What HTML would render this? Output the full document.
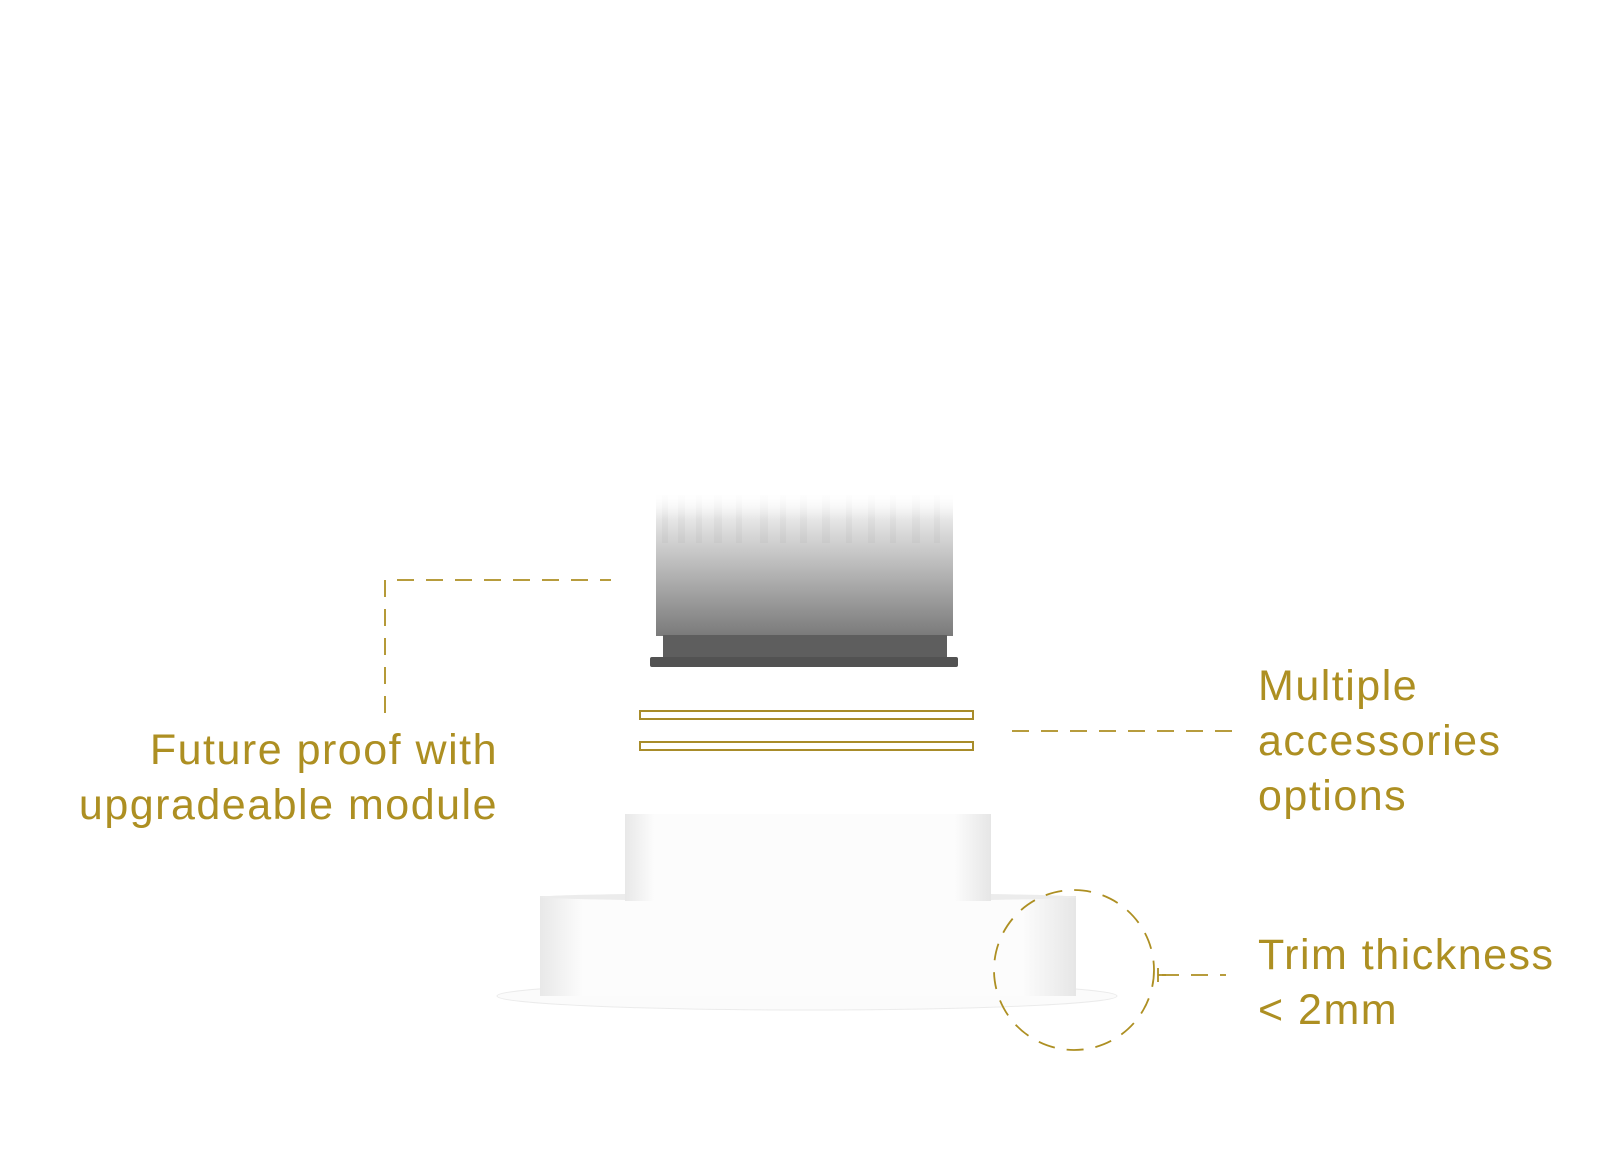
<!DOCTYPE html>
<html><head><meta charset="utf-8"><style>
html,body{margin:0;padding:0;background:#fff;}
body{width:1613px;height:1161px;position:relative;overflow:hidden;font-family:"Liberation Sans",sans-serif;}
.t{position:absolute;color:#ad8f22;font-size:43px;line-height:55px;white-space:nowrap;letter-spacing:1.5px;}
</style></head><body>
<svg width="1613" height="1161" style="position:absolute;left:0;top:0">
<defs>
<linearGradient id="mod" x1="0" y1="0" x2="0" y2="1">
<stop offset="0" stop-color="#fff"/>
<stop offset="0.3" stop-color="#d6d6d6"/>
<stop offset="1" stop-color="#7a7a7a"/>
</linearGradient>
<linearGradient id="fade" x1="0" y1="0" x2="0" y2="1">
<stop offset="0" stop-color="#fff" stop-opacity="1"/>
<stop offset="1" stop-color="#fff" stop-opacity="0"/>
</linearGradient>
<linearGradient id="wh" x1="0" y1="0" x2="1" y2="0">
<stop offset="0" stop-color="#e8e8e8"/>
<stop offset="0.08" stop-color="#fcfcfc"/>
<stop offset="0.9" stop-color="#fcfcfc"/>
<stop offset="1" stop-color="#e6e6e6"/>
</linearGradient>
</defs>
<rect x="656" y="493" width="297" height="143" fill="url(#mod)"/>
<g fill="#000" opacity="0.025">
<rect x="662" y="495" width="6" height="48"/><rect x="678" y="495" width="7" height="48"/><rect x="696" y="495" width="6" height="48"/><rect x="714" y="495" width="8" height="48"/><rect x="736" y="495" width="6" height="48"/><rect x="760" y="495" width="8" height="48"/><rect x="780" y="495" width="6" height="48"/><rect x="800" y="495" width="7" height="48"/><rect x="822" y="495" width="8" height="48"/><rect x="846" y="495" width="6" height="48"/><rect x="868" y="495" width="7" height="48"/><rect x="890" y="495" width="6" height="48"/><rect x="912" y="495" width="8" height="48"/><rect x="934" y="495" width="6" height="48"/>
</g>
<rect x="656" y="490" width="297" height="30" fill="url(#fade)"/>
<rect x="663" y="635" width="284" height="23" fill="#5e5e5e"/>
<rect x="650" y="657" width="308" height="10" rx="2" fill="#525252"/>
<rect x="640" y="711" width="333" height="8" fill="none" stroke="#a88c2a" stroke-width="2"/>
<rect x="640" y="742" width="333" height="8" fill="none" stroke="#a88c2a" stroke-width="2"/>
<ellipse cx="807" cy="996" rx="310" ry="14" fill="#fbfbfb" stroke="#ebebeb"/>
<rect x="540" y="896" width="536" height="100" fill="url(#wh)"/>
<ellipse cx="808" cy="897" rx="268" ry="4" fill="#ececec"/>
<rect x="625" y="814" width="366" height="87" fill="url(#wh)"/>
<g stroke="#ad8f22" stroke-width="1.8" fill="none" stroke-dasharray="17 12">
<path d="M385 713 V580 H611"/>
<path d="M1012 731 H1238"/>
<path d="M1162 975 H1226"/>
<circle cx="1074" cy="970" r="80"/>
</g>
<path d="M1158 968 V982 M1158 975 H1166" stroke="#ad8f22" stroke-width="1.8"/>
</svg>
<div class="t" style="right:1115px;top:723px;text-align:right">Future proof with<br>upgradeable module</div>
<div class="t" style="left:1258px;top:659px">Multiple<br>accessories<br>options</div>
<div class="t" style="left:1258px;top:928px">Trim thickness<br>&lt; 2mm</div>
</body></html>
